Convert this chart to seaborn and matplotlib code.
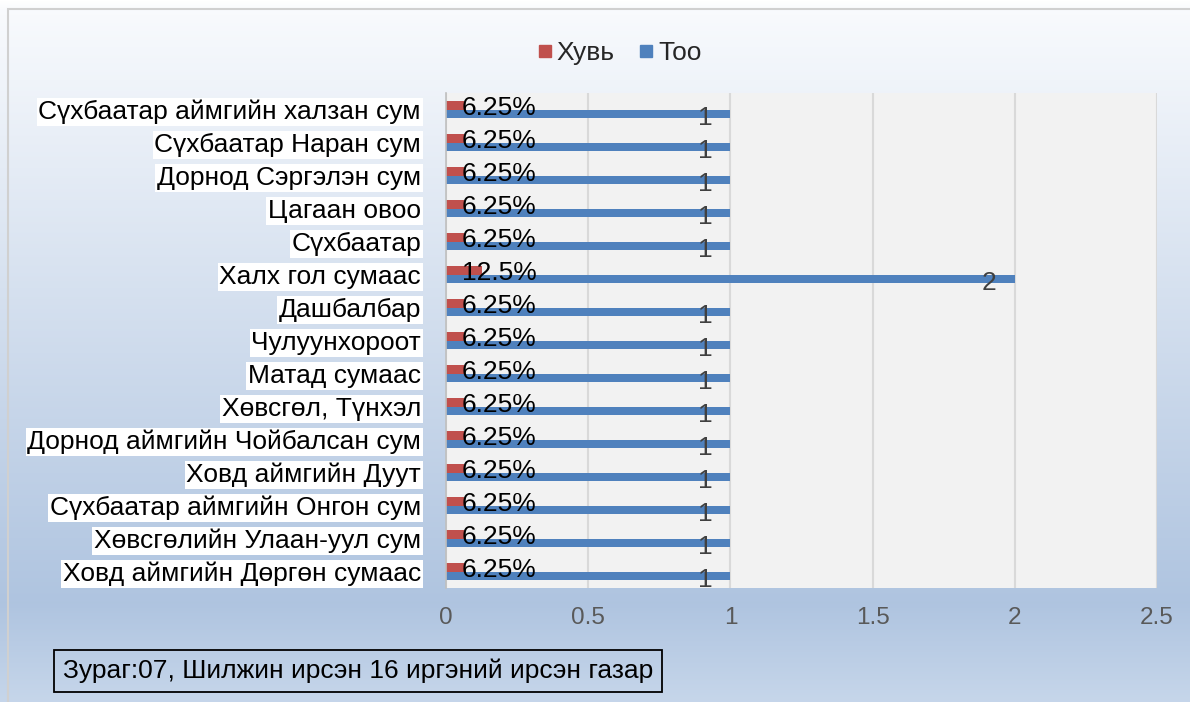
import numpy as np
import pandas as pd
import seaborn as sns
import matplotlib.pyplot as plt
from matplotlib.patches import Rectangle
from matplotlib.lines import Line2D

# ---- data ----
places = [
    "Сүхбаатар аймгийн халзан сум",
    "Сүхбаатар Наран сум",
    "Дорнод Сэргэлэн сум",
    "Цагаан овоо",
    "Сүхбаатар",
    "Халх гол сумаас",
    "Дашбалбар",
    "Чулуунхороот",
    "Матад сумаас",
    "Хөвсгөл, Түнхэл",
    "Дорнод аймгийн Чойбалсан сум",
    "Ховд аймгийн Дуут",
    "Сүхбаатар аймгийн Онгон сум",
    "Хөвсгөлийн Улаан-уул сум",
    "Ховд аймгийн Дөргөн сумаас",
]
count = [1, 1, 1, 1, 1, 2, 1, 1, 1, 1, 1, 1, 1, 1, 1]
share = [0.0625, 0.0625, 0.0625, 0.0625, 0.0625, 0.125, 0.0625, 0.0625,
         0.0625, 0.0625, 0.0625, 0.0625, 0.0625, 0.0625, 0.0625]
series = ["Хувь", "Тоо"]
x_ticks = [0, 0.5, 1, 1.5, 2, 2.5]
caption = "Зураг:07, Шилжин ирсэн 16 иргэний ирсэн газар"

df = pd.concat([
    pd.DataFrame({"place": places, "series": "Хувь", "value": share}),
    pd.DataFrame({"place": places, "series": "Тоо", "value": count}),
])

RED = "#c0504d"
BLUE = "#4f81bd"

sns.set_theme(style="white")
plt.rcParams["font.family"] = ["Liberation Sans", "DejaVu Sans"]

fig = plt.figure(figsize=(11.9, 7.02), dpi=100)

# gradient background like the Excel chart area
bg = fig.add_axes([0, 0, 1, 1], zorder=-10)
ys = np.linspace(0, 1, 300)
stops = [0.0, 0.013, 0.86, 1.0]
cols = np.array([[1, 1, 1], [0.975, 0.982, 0.993], [0.686, 0.769, 0.878], [0.776, 0.839, 0.918]])
grad = np.stack([np.interp(ys, stops, cols[:, k]) for k in range(3)], axis=-1)
bg.imshow(grad[:, None, :], aspect="auto", extent=[0, 1, 0, 1], origin="upper")
bg.add_patch(Rectangle((8 / 1190, -0.01), 1, 1 - 9 / 702 + 0.01, fill=False,
                       edgecolor="#d0d0d0", linewidth=1.5))
bg.set_xlim(0, 1)
bg.set_ylim(0, 1)
bg.axis("off")

ax = fig.add_axes([446 / 1190, 1 - 588 / 702, 711 / 1190, 495 / 702])
sns.barplot(data=df, x="value", y="place", hue="series", hue_order=series,
            palette=[RED, BLUE], orient="h", width=0.5, saturation=1,
            errorbar=None, linewidth=0, ax=ax)

ax.set_facecolor("#f2f2f2")
ax.set_xlim(0, 2.5)
ax.set_xticks(x_ticks)
ax.set_xticklabels([f"{t:g}" for t in x_ticks])
ax.grid(axis="x", color="#d9d9d9", linewidth=1.5)
ax.set_axisbelow(True)
for s in ["top", "right", "bottom"]:
    ax.spines[s].set_visible(False)
ax.spines["left"].set_color("#bfbfbf")
ax.spines["left"].set_linewidth(1.2)
ax.set_xlabel("")
ax.set_ylabel("")
ax.tick_params(axis="x", length=0, pad=14, labelsize=17.5, labelcolor="#595959")
ax.tick_params(axis="y", length=0, pad=18, labelsize=19, labelcolor="black")
for lbl in ax.get_yticklabels():
    lbl.set_bbox(dict(facecolor="white", edgecolor="none", pad=1.2))

# data labels: percentages sit near the base, counts inside the bar end
share_bars, count_bars = ax.containers[0], ax.containers[1]
for p in share_bars:
    w = p.get_width()
    ax.annotate(f"{w * 100:g}%", (p.get_x(), p.get_y() + p.get_height() / 2),
                xytext=(11.5, -2), textcoords="offset points",
                ha="left", va="center", fontsize=19, color="black")
for p in count_bars:
    w = p.get_width()
    ax.annotate(f"{w:g}", (w, p.get_y() + p.get_height() / 2),
                xytext=(-13, -3), textcoords="offset points",
                ha="right", va="center", fontsize=19, color="#404040")

ax.get_legend().remove()
handles = [Line2D([], [], marker="s", linestyle="none", markersize=9,
                  markerfacecolor=c, markeredgecolor=c) for c in (RED, BLUE)]
fig.legend(handles, series, loc="center", bbox_to_anchor=(618 / 1190, 1 - 53 / 702),
           ncol=2, frameon=False, fontsize=19, handletextpad=0.05,
           columnspacing=0.8, handlelength=0.8)

fig.text(358 / 1190, 1 - 671 / 702, caption, ha="center", va="center", fontsize=19,
         color="black",
         bbox=dict(facecolor="none", edgecolor="black", linewidth=1.3, pad=6))

fig.savefig("out.png", dpi=100)
